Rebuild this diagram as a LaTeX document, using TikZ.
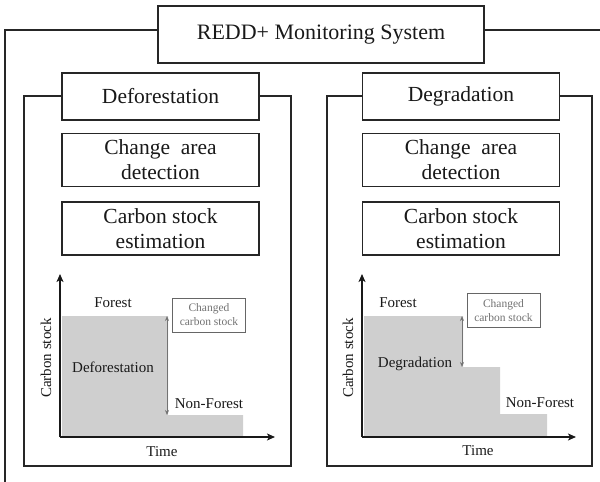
\documentclass[tikz,border=0pt]{standalone}
\usepackage{fontspec}
\setmainfont{Liberation Serif}
\usetikzlibrary{arrows.meta}
\begin{document}
\begin{tikzpicture}[x=1pt,y=-1pt,
  frameline/.style={draw=black!85,line width=1.4pt},
  box/.style={draw=black!85,line width=1.4pt,fill=white,inner sep=0pt,align=center,text=black!90},
  bigbox/.style={box,minimum width=326pt,minimum height=57pt,font=\fontsize{22}{24}\selectfont},
  labbox/.style={box,minimum width=197pt,minimum height=47pt,font=\fontsize{21.5}{24}\selectfont},
  stepbox/.style={box,minimum width=197pt,minimum height=53pt,font=\fontsize{21.5}{25}\selectfont},
  smallbox/.style={draw=black!60,line width=1pt,fill=white,inner sep=0pt,align=center,text=black!55,minimum width=73pt,minimum height=34pt,font=\fontsize{11.5}{14}\selectfont},
  charttext/.style={inner sep=0pt,text=black!90,font=\fontsize{15}{17}\selectfont},
  axis/.style={draw=black!90,line width=1.3pt,-{Stealth[length=8pt,width=7pt,inset=2pt]}},
  gapline/.style={draw=black!55,line width=1pt,{Stealth[length=5pt,width=4pt]}-{Stealth[length=5pt,width=4pt]}},
  stock/.style={fill=black!19,draw=none}]
\useasboundingbox (0,0) rectangle (600,482);

% outer frame
\node[bigbox] (top) at (321,34.5) {REDD+ Monitoring System};
\coordinate (olt) at (5,30);
\coordinate (olb) at (5,482);
\coordinate (ort) at (600,30);
\draw[frameline] (top.west |- olt) -- (olt) -- (olb);
\draw[frameline] (top.east |- ort) -- (ort);

% ---------- left panel ----------
\coordinate (lp1) at (24,96);
\coordinate (lp2) at (24,466);
\coordinate (lp3) at (291,466);
\coordinate (lp4) at (291,96);
\draw[frameline] (62,96) -- (lp1) -- (lp2) -- (lp3) -- (lp4) -- (259,96);
\node[labbox] (defor) at (160.5,96.5) {Deforestation};
\node[stepbox] (lcad) at (160.5,160) {Change\enspace area\\detection};
\node[stepbox] (lcse) at (160.5,228.5) {Carbon stock\\estimation};

% chart left
\fill[stock] (62,316) -- (168,316) -- (168,415) -- (243,415) -- (243,436) -- (62,436) -- cycle;
\coordinate (lo) at (60,437);
\coordinate (ly) at (60,274);
\coordinate (lx) at (275,437);
\draw[axis] (lo) -- (ly);
\draw[axis] (lo) -- (lx);
\coordinate (la1) at (167,316);
\coordinate (la2) at (167,415);
\draw[gapline] (la1) -- (la2);
\node[smallbox] (lchg) at (209,315) {Changed\\carbon stock};
\node[charttext] (lfor) at (113,303) {Forest};
\node[charttext] (ldef) at (113,367) {Deforestation};
\node[charttext] (lnon) at (209,404) {Non-Forest};
\node[charttext] (ltime) at (162,452) {Time};
\node[charttext,rotate=90] (lcs) at (46,358) {Carbon stock};

% ---------- right panel ----------
\coordinate (rp1) at (327,96);
\coordinate (rp2) at (327,466);
\coordinate (rp3) at (592,466);
\coordinate (rp4) at (592,96);
\draw[frameline] (363,96) -- (rp1) -- (rp2) -- (rp3) -- (rp4) -- (559,96);
\node[labbox] (degr) at (461,96.5) {Degradation};
\node[stepbox] (rcad) at (461,160) {Change\enspace area\\detection};
\node[stepbox] (rcse) at (461,228.5) {Carbon stock\\estimation};

% chart right
\fill[stock] (364,316) -- (463,316) -- (463,367) -- (500,367) -- (500,414) -- (547,414) -- (547,436) -- (364,436) -- cycle;
\coordinate (ro) at (362,437);
\coordinate (ry) at (362,274);
\coordinate (rx) at (576,437);
\draw[axis] (ro) -- (ry);
\draw[axis] (ro) -- (rx);
\coordinate (ra1) at (462,316);
\coordinate (ra2) at (462,367);
\draw[gapline] (ra1) -- (ra2);
\node[smallbox] (rchg) at (503.5,310.5) {Changed\\carbon stock};
\node[charttext] (rfor) at (398,303) {Forest};
\node[charttext] (rdeg) at (415,364) {Degradation};
\node[charttext] (rnon) at (540,403) {Non-Forest};
\node[charttext] (rtime) at (478,451) {Time};
\node[charttext,rotate=90] (rcs) at (348,358) {Carbon stock};
\end{tikzpicture}
\end{document}
